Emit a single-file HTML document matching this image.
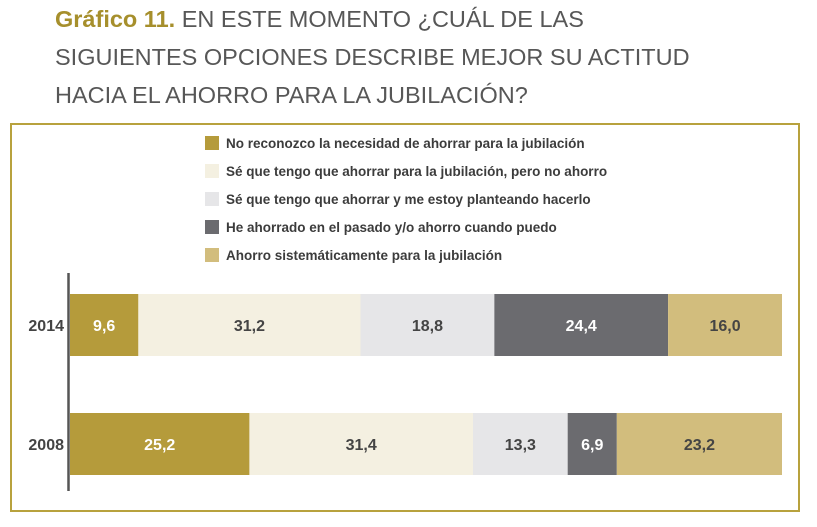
<!DOCTYPE html>
<html><head><meta charset="utf-8"><style>
body{margin:0;width:817px;height:527px;background:#fff;font-family:"Liberation Sans",sans-serif;overflow:hidden;position:relative}
.t{position:absolute;left:55px;font-size:23.5px;color:#575757;white-space:nowrap;letter-spacing:0px}
.t b{color:#a68f2c}
</style></head><body>
<div class="t" style="top:6px"><b>Gráfico 11.</b> EN ESTE MOMENTO ¿CUÁL DE LAS</div>
<div class="t" style="top:44px">SIGUIENTES OPCIONES DESCRIBE MEJOR SU ACTITUD</div>
<div class="t" style="top:82px">HACIA EL AHORRO PARA LA JUBILACIÓN?</div>
<svg id="c" width="817" height="527" style="position:absolute;left:0;top:0"></svg>
<script>
const categories=["2014","2008"];
const seriesNames=["No reconozco la necesidad de ahorrar para la jubilación","Sé que tengo que ahorrar para la jubilación, pero no ahorro","Sé que tengo que ahorrar y me estoy planteando hacerlo","He ahorrado en el pasado y/o ahorro cuando puedo","Ahorro sistemáticamente para la jubilación"];
const v2014=[9.6,31.2,18.8,24.4,16.0];
const v2008=[25.2,31.4,13.3,6.9,23.2];
const colors=["#b59b3b","#f4f0e1","#e6e6e8","#6b6b6f","#d2bd7d"];
const textColors=["#fff","#444","#444","#fff","#444"];
const values=[v2014,v2008];
const svg=document.getElementById('c');const NS="http://www.w3.org/2000/svg";
function mk(t,a,p){const e=document.createElementNS(NS,t);for(const k in a)e.setAttribute(k,a[k]);(p||svg).appendChild(e);return e;}
const x0=70,x1=782;const xs=v=>x0+(x1-x0)*v/100;
const yC=[325,444];const bh=62;
const frame=mk('rect',{x:11,y:124,width:788,height:387,fill:'none',stroke:'#b8a23e','stroke-width':2});


seriesNames.forEach((n,i)=>{
 const y=143+i*28;
 const r=mk('rect',{x:205,y:y-7,width:14,height:14,fill:colors[i]});
 
 
 const t=mk('text',{x:226,y:y+5,'font-size':13.5,'font-weight':'bold',fill:'#3c3c3c'});t.textContent=n;
 
 
});
values.forEach((vals,ci)=>{
 let acc=0;
 vals.forEach((v,i)=>{
  const a=xs(acc),b=xs(acc+v);
  const r=mk('rect',{x:a,y:yC[ci]-bh/2,width:b-a,height:bh,fill:colors[i]});
  
  
  const t=mk('text',{x:(a+b)/2,y:yC[ci]+6,'font-size':16,'font-weight':'bold','text-anchor':'middle',fill:textColors[i]});
  t.textContent=v.toFixed(1).replace('.',',');
  
  
  acc+=v;
 });
 const l=mk('text',{x:64,y:yC[ci]+6,'font-size':16,'font-weight':'bold','text-anchor':'end',fill:'#444'});l.textContent=categories[ci];
 
 
});
const ax=mk('line',{x1:68.5,y1:273,x2:68.5,y2:491,stroke:'#555',"stroke-width":2.5});


</script>
</body></html>
